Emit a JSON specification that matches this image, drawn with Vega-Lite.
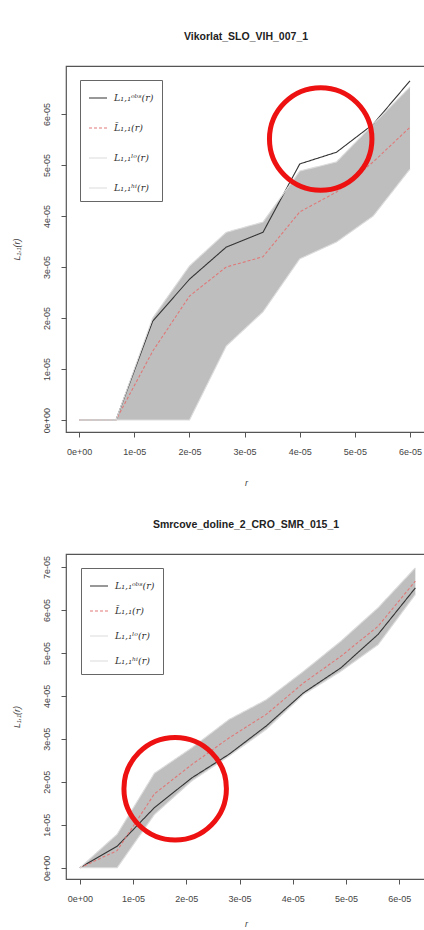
{
  "$schema": "https://vega.github.io/schema/vega-lite/v6.json",
  "background": "white",
  "padding": {"left": 11, "top": 30, "right": 0, "bottom": 0},
  "spacing": 30,
  "config": {
    "font": "Liberation Sans",
    "view": {"stroke": "#555555", "strokeWidth": 1.2},
    "axis": {"grid": false, "domain": false, "tickColor": "#555555", "tickSize": 5, "labelColor": "#444444", "labelFontSize": 9, "titleFontWeight": "normal", "titleColor": "#444444", "titleFontSize": 9, "titleFontStyle": "italic"},
    "title": {"fontSize": 10.5, "fontWeight": "bold", "color": "#222222", "offset": 24},
    "legend": {"labelFont": "DejaVu Serif", "labelFontStyle": "italic", "labelFontSize": 9.5, "labelColor": "#333333", "strokeColor": "#666666", "fillColor": "white", "padding": 8, "symbolType": "stroke", "symbolSize": 324, "symbolStrokeWidth": 1.2, "labelOffset": 6, "title": null}
  },
  "datasets": {
    "top": [
      {"r": 0, "obs": 0, "mean": 0, "lo": 0, "hi": 0},
      {"r": 6.67e-6, "obs": 0, "mean": 0, "lo": 0, "hi": 0},
      {"r": 1.333e-5, "obs": 1.94e-5, "mean": 1.35e-5, "lo": 0, "hi": 2.0e-5},
      {"r": 2e-5, "obs": 2.76e-5, "mean": 2.43e-5, "lo": 0, "hi": 3.02e-5},
      {"r": 2.667e-5, "obs": 3.39e-5, "mean": 3.0e-5, "lo": 1.45e-5, "hi": 3.68e-5},
      {"r": 3.333e-5, "obs": 3.68e-5, "mean": 3.2e-5, "lo": 2.12e-5, "hi": 3.88e-5},
      {"r": 4e-5, "obs": 5.02e-5, "mean": 4.08e-5, "lo": 3.16e-5, "hi": 4.88e-5},
      {"r": 4.667e-5, "obs": 5.25e-5, "mean": 4.47e-5, "lo": 3.49e-5, "hi": 5.06e-5},
      {"r": 5.333e-5, "obs": 5.8e-5, "mean": 5.06e-5, "lo": 4.0e-5, "hi": 5.8e-5},
      {"r": 6e-5, "obs": 6.65e-5, "mean": 5.74e-5, "lo": 4.92e-5, "hi": 6.53e-5}
    ],
    "bottom": [
      {"r": 0, "obs": 0, "mean": 0, "lo": 0, "hi": 0},
      {"r": 7e-6, "obs": 0.5e-5, "mean": 0.4e-5, "lo": 0, "hi": 0.78e-5},
      {"r": 1.4e-5, "obs": 1.4e-5, "mean": 1.72e-5, "lo": 1.24e-5, "hi": 2.2e-5},
      {"r": 2.1e-5, "obs": 2.09e-5, "mean": 2.4e-5, "lo": 2.02e-5, "hi": 2.79e-5},
      {"r": 2.8e-5, "obs": 2.64e-5, "mean": 3.02e-5, "lo": 2.6e-5, "hi": 3.45e-5},
      {"r": 3.5e-5, "obs": 3.3e-5, "mean": 3.57e-5, "lo": 3.22e-5, "hi": 3.91e-5},
      {"r": 4.2e-5, "obs": 4.07e-5, "mean": 4.3e-5, "lo": 4.03e-5, "hi": 4.57e-5},
      {"r": 4.9e-5, "obs": 4.65e-5, "mean": 4.92e-5, "lo": 4.57e-5, "hi": 5.27e-5},
      {"r": 5.6e-5, "obs": 5.43e-5, "mean": 5.62e-5, "lo": 5.19e-5, "hi": 6.05e-5},
      {"r": 6.3e-5, "obs": 6.51e-5, "mean": 6.67e-5, "lo": 6.36e-5, "hi": 6.98e-5}
    ],
    "circTop": [{"r": 4.38e-5, "y": 5.51e-5}],
    "circBottom": [{"r": 1.79e-5, "y": 1.84e-5}]
  },
  "vconcat": [
    {
      "title": "Vikorlat_SLO_VIH_007_1",
      "width": 360,
      "height": 366,
      "layer": [
        {
          "data": {"name": "top"},
          "mark": {"type": "area", "color": "#bebebe", "clip": true},
          "encoding": {
            "x": {"field": "r", "type": "quantitative", "scale": {"domain": [-2.4e-6, 6.29e-5], "nice": false, "zero": false},
              "axis": {"values": [0, 1e-5, 2e-5, 3e-5, 4e-5, 5e-5, 6e-5], "labelExpr": "datum.value == 0 ? '0e+00' : format(datum.value*1e5, 'd') + 'e-05'", "title": "r", "titlePadding": 22, "labelPadding": 10}},
            "y": {"field": "lo", "type": "quantitative", "scale": {"domain": [-2.35e-6, 6.94e-5], "nice": false, "zero": false},
              "axis": {"values": [0, 1e-5, 2e-5, 3e-5, 4e-5, 5e-5, 6e-5], "labelExpr": "datum.value == 0 ? '0e+00' : format(datum.value*1e5, 'd') + 'e-05'", "labelAngle": -90, "labelAlign": "center", "labelBaseline": "bottom", "labelPadding": 10, "title": "L₁,₁(r)", "titlePadding": 21}},
            "y2": {"field": "hi"}
          }
        },
        {
          "data": {"name": "top"},
          "transform": [{"fold": ["obs", "mean", "lo", "hi"], "as": ["series", "val"]}],
          "mark": {"type": "line", "strokeWidth": 1.1, "clip": true},
          "encoding": {
            "x": {"field": "r", "type": "quantitative"},
            "y": {"field": "val", "type": "quantitative"},
            "color": {"field": "series", "type": "nominal",
              "scale": {"domain": ["obs", "mean", "lo", "hi"], "range": ["#333333", "#e07878", "#dcdcdc", "#dcdcdc"]},
              "legend": {"orient": "none", "legendX": 14, "legendY": 14, "rowPadding": 15, "labelExpr": "datum.value == 'obs' ? 'L₁,₁ᵒᵇˢ(r)' : datum.value == 'mean' ? 'L̄₁,₁(r)' : datum.value == 'lo' ? 'L₁,₁ˡᵒ(r)' : 'L₁,₁ʰⁱ(r)'"}},
            "strokeDash": {"field": "series", "type": "nominal",
              "scale": {"domain": ["obs", "mean", "lo", "hi"], "range": [[1, 0], [3, 2], [1, 0], [1, 0]]}, "legend": null}
          }
        },
        {
          "data": {"name": "circTop"},
          "mark": {"type": "point", "shape": "circle", "size": 10500, "stroke": "#ee1111", "strokeWidth": 5, "filled": false, "opacity": 1},
          "encoding": {
            "x": {"field": "r", "type": "quantitative"},
            "y": {"field": "y", "type": "quantitative"}
          }
        }
      ]
    },
    {
      "title": "Smrcove_doline_2_CRO_SMR_015_1",
      "width": 360,
      "height": 325,
      "layer": [
        {
          "data": {"name": "bottom"},
          "mark": {"type": "area", "color": "#bebebe", "clip": true},
          "encoding": {
            "x": {"field": "r", "type": "quantitative", "scale": {"domain": [-2.6e-6, 6.5e-5], "nice": false, "zero": false},
              "axis": {"values": [0, 1e-5, 2e-5, 3e-5, 4e-5, 5e-5, 6e-5], "labelExpr": "datum.value == 0 ? '0e+00' : format(datum.value*1e5, 'd') + 'e-05'", "title": "r", "titlePadding": 16, "labelPadding": 10}},
            "y": {"field": "lo", "type": "quantitative", "scale": {"domain": [-2.6e-6, 7.3e-5], "nice": false, "zero": false},
              "axis": {"values": [0, 1e-5, 2e-5, 3e-5, 4e-5, 5e-5, 6e-5, 7e-5], "labelExpr": "datum.value == 0 ? '0e+00' : format(datum.value*1e5, 'd') + 'e-05'", "labelAngle": -90, "labelAlign": "center", "labelBaseline": "bottom", "labelPadding": 10, "title": "L₁,₁(r)", "titlePadding": 21}},
            "y2": {"field": "hi"}
          }
        },
        {
          "data": {"name": "bottom"},
          "transform": [{"fold": ["obs", "mean", "lo", "hi"], "as": ["series", "val"]}],
          "mark": {"type": "line", "strokeWidth": 1.1, "clip": true},
          "encoding": {
            "x": {"field": "r", "type": "quantitative"},
            "y": {"field": "val", "type": "quantitative"},
            "color": {"field": "series", "type": "nominal",
              "scale": {"domain": ["obs", "mean", "lo", "hi"], "range": ["#333333", "#e07878", "#dcdcdc", "#dcdcdc"]},
              "legend": {"orient": "none", "legendX": 15, "legendY": 14, "rowPadding": 10, "labelExpr": "datum.value == 'obs' ? 'L₁,₁ᵒᵇˢ(r)' : datum.value == 'mean' ? 'L̄₁,₁(r)' : datum.value == 'lo' ? 'L₁,₁ˡᵒ(r)' : 'L₁,₁ʰⁱ(r)'"}},
            "strokeDash": {"field": "series", "type": "nominal",
              "scale": {"domain": ["obs", "mean", "lo", "hi"], "range": [[1, 0], [3, 2], [1, 0], [1, 0]]}, "legend": null}
          }
        },
        {
          "data": {"name": "circBottom"},
          "mark": {"type": "point", "shape": "circle", "size": 10500, "stroke": "#ee1111", "strokeWidth": 5, "filled": false, "opacity": 1},
          "encoding": {
            "x": {"field": "r", "type": "quantitative"},
            "y": {"field": "y", "type": "quantitative"}
          }
        }
      ],
      "resolve": {"scale": {"color": "independent", "strokeDash": "independent"}}
    }
  ],
  "resolve": {"scale": {"x": "independent", "y": "independent", "color": "independent", "strokeDash": "independent"}, "legend": {"color": "independent"}}
}
